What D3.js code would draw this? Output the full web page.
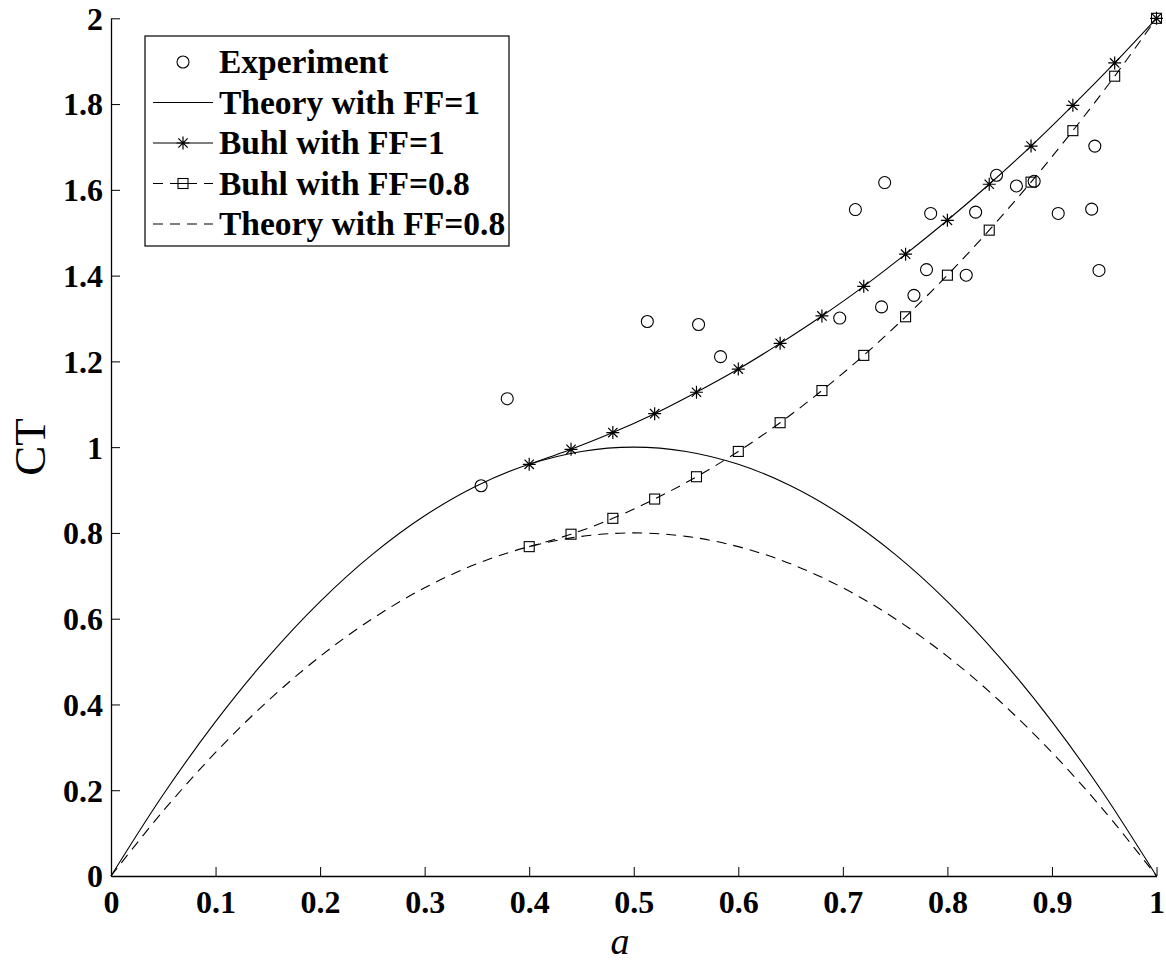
<!DOCTYPE html>
<html>
<head>
<meta charset="utf-8">
<script src="https://cdn.jsdelivr.net/npm/d3@7"></script>
<style>
  body { margin: 0; background: #fff; }
  svg text { font-family: "Liberation Serif", "Times New Roman", serif; }
</style>
</head>
<body>
<svg id="chart" width="1166" height="964"></svg>
<script>
// theory curves
const theoryA = [0, 0.05, 0.1, 0.15, 0.2, 0.25, 0.3, 0.35, 0.4, 0.45, 0.5, 0.55, 0.6, 0.65, 0.7, 0.75, 0.8, 0.85, 0.9, 0.95, 1];
const theoryFF1 = [0, 0.19, 0.36, 0.51, 0.64, 0.75, 0.84, 0.91, 0.96, 0.99, 1.0, 0.99, 0.96, 0.91, 0.84, 0.75, 0.64, 0.51, 0.36, 0.19, 0];
const theoryFF08 = [0, 0.152, 0.288, 0.408, 0.512, 0.6, 0.672, 0.728, 0.768, 0.792, 0.8, 0.792, 0.768, 0.728, 0.672, 0.6, 0.512, 0.408, 0.288, 0.152, 0];

// Buhl correction points
const buhlA = [0.4, 0.44, 0.48, 0.52, 0.56, 0.6, 0.64, 0.68, 0.72, 0.76, 0.8, 0.84, 0.88, 0.92, 0.96, 1.0];
const buhlFF1 = [0.96, 0.995, 1.034, 1.078, 1.128, 1.182, 1.242, 1.306, 1.375, 1.45, 1.529, 1.613, 1.702, 1.797, 1.896, 2.0];
const buhlFF08 = [0.768, 0.797, 0.834, 0.879, 0.931, 0.99, 1.057, 1.132, 1.214, 1.304, 1.401, 1.506, 1.618, 1.738, 1.865, 2.0];

// experiment
const expA = [0.354, 0.379, 0.513, 0.562, 0.583, 0.697, 0.712, 0.737, 0.740, 0.768, 0.780, 0.784, 0.818, 0.827, 0.847, 0.866, 0.883, 0.906, 0.938, 0.941, 0.945];
const expCT = [0.910, 1.113, 1.293, 1.286, 1.211, 1.301, 1.554, 1.327, 1.617, 1.354, 1.414, 1.545, 1.401, 1.548, 1.634, 1.609, 1.620, 1.545, 1.555, 1.702, 1.412];

const xTicks = [0, 0.1, 0.2, 0.3, 0.4, 0.5, 0.6, 0.7, 0.8, 0.9, 1];
const yTicks = [0, 0.2, 0.4, 0.6, 0.8, 1, 1.2, 1.4, 1.6, 1.8, 2];

const svg = d3.select('#chart');
const x = d3.scaleLinear().domain([0, 1]).range([111, 1156.5]);
const y = d3.scaleLinear().domain([0, 2]).range([876, 18.3]);

const line = d3.line()
  .x(d => x(d[0]))
  .y(d => y(d[1]))
  .curve(d3.curveCatmullRom);

const zip = (a, b) => a.map((v, i) => [v, b[i]]);

// axes
const xAxis = svg.append('g')
  .attr('transform', 'translate(0,' + y(0) + ')')
  .call(d3.axisBottom(x).tickValues(xTicks).tickSizeInner(-9).tickSizeOuter(0).tickPadding(14)
    .tickFormat(d => d === 0 || d === 1 ? d3.format('d')(d) : d3.format('.1f')(d)));
const yAxis = svg.append('g')
  .attr('transform', 'translate(' + x(0) + ',0)')
  .call(d3.axisLeft(y).tickValues(yTicks).tickSizeInner(-9).tickSizeOuter(0).tickPadding(8)
    .tickFormat(d => Number.isInteger(d) ? d3.format('d')(d) : d3.format('.1f')(d)));

[xAxis, yAxis].forEach(g => {
  g.select('.domain').attr('stroke', '#000').attr('stroke-width', 1.3);
  g.selectAll('.tick line').attr('stroke', '#000').attr('stroke-width', 1);
  g.selectAll('.tick text')
    .attr('fill', '#000')
    .style('font-family', '"Liberation Serif", serif')
    .style('font-weight', 'bold')
    .style('font-size', '32px');
});
xAxis.selectAll('.tick text').attr('dy', '0.71em');
yAxis.selectAll('.tick text').attr('dy', '0.34em');

// axis titles
svg.append('text')
  .attr('transform', 'translate(45,447) rotate(-90)')
  .attr('text-anchor', 'middle')
  .style('font-size', '45px')
  .text('CT');
svg.append('text')
  .attr('x', 620).attr('y', 954)
  .attr('text-anchor', 'middle')
  .style('font-size', '38px')
  .style('font-style', 'italic')
  .text('a');

// lines
const plot = svg.append('g').attr('fill', 'none').attr('stroke', '#000');
plot.append('path').attr('d', line(zip(theoryA, theoryFF1))).attr('stroke-width', 1.1);
plot.append('path').attr('d', line(zip(theoryA, theoryFF08))).attr('stroke-width', 1.1).attr('stroke-dasharray', '10,7');
plot.append('path').attr('d', line(zip(buhlA, buhlFF1))).attr('stroke-width', 1.1);
plot.append('path').attr('d', line(zip(buhlA, buhlFF08))).attr('stroke-width', 1.1).attr('stroke-dasharray', '10,7');

// markers
const star = (g, cx, cy, r) => {
  const p = d3.path();
  p.moveTo(cx - r, cy); p.lineTo(cx + r, cy);
  p.moveTo(cx, cy - r); p.lineTo(cx, cy + r);
  const k = r * 0.72;
  p.moveTo(cx - k, cy - k); p.lineTo(cx + k, cy + k);
  p.moveTo(cx - k, cy + k); p.lineTo(cx + k, cy - k);
  g.append('path').attr('d', p.toString()).attr('stroke', '#000').attr('stroke-width', 1.2).attr('fill', 'none');
};
const square = (g, cx, cy, s) => {
  g.append('rect').attr('x', cx - s / 2).attr('y', cy - s / 2).attr('width', s).attr('height', s)
    .attr('fill', 'none').attr('stroke', '#000').attr('stroke-width', 1.1);
};
const circle = (g, cx, cy, r) => {
  g.append('circle').attr('cx', cx).attr('cy', cy).attr('r', r)
    .attr('fill', 'none').attr('stroke', '#000').attr('stroke-width', 1.1);
};

const marks = svg.append('g');
buhlA.forEach((a, i) => star(marks, x(a), y(buhlFF1[i]), 6.5));
buhlA.forEach((a, i) => square(marks, x(a), y(buhlFF08[i]), 10));
expA.forEach((a, i) => circle(marks, x(a), y(expCT[i]), 6));

// legend
const legendItems = [
  { label: 'Experiment', line: null, mark: 'circle' },
  { label: 'Theory with FF=1', line: 'solid', mark: null },
  { label: 'Buhl with FF=1', line: 'solid', mark: 'star' },
  { label: 'Buhl with FF=0.8', line: 'dash', mark: 'square' },
  { label: 'Theory with FF=0.8', line: 'dash', mark: null }
];
const legend = svg.append('g');
legend.append('rect')
  .attr('x', 145).attr('y', 36).attr('width', 364).attr('height', 210)
  .attr('fill', '#fff').attr('stroke', '#000').attr('stroke-width', 1.2);
legendItems.forEach((d, i) => {
  const cy = 62 + i * 40.5;
  if (d.line) {
    legend.append('line').attr('x1', 153).attr('x2', 213).attr('y1', cy).attr('y2', cy)
      .attr('stroke', '#000').attr('stroke-width', 1.1)
      .attr('stroke-dasharray', d.line === 'dash' ? '10,7' : null);
  }
  if (d.mark === 'circle') circle(legend, 183, cy, 6);
  if (d.mark === 'star') star(legend, 183, cy, 6.5);
  if (d.mark === 'square') {
    legend.append('rect').attr('x', 178).attr('y', cy - 5).attr('width', 10).attr('height', 10)
      .attr('fill', '#fff').attr('stroke', '#000').attr('stroke-width', 1.1);
    legend.append('line').attr('x1', 178).attr('x2', 188).attr('y1', cy).attr('y2', cy).attr('stroke', '#000').attr('stroke-width', 1);
  }
  legend.append('text')
    .attr('x', 219).attr('y', cy).attr('dy', '0.34em')
    .style('font-size', '33.5px').style('font-weight', 'bold')
    .text(d.label);
});
</script>
</body>
</html>
